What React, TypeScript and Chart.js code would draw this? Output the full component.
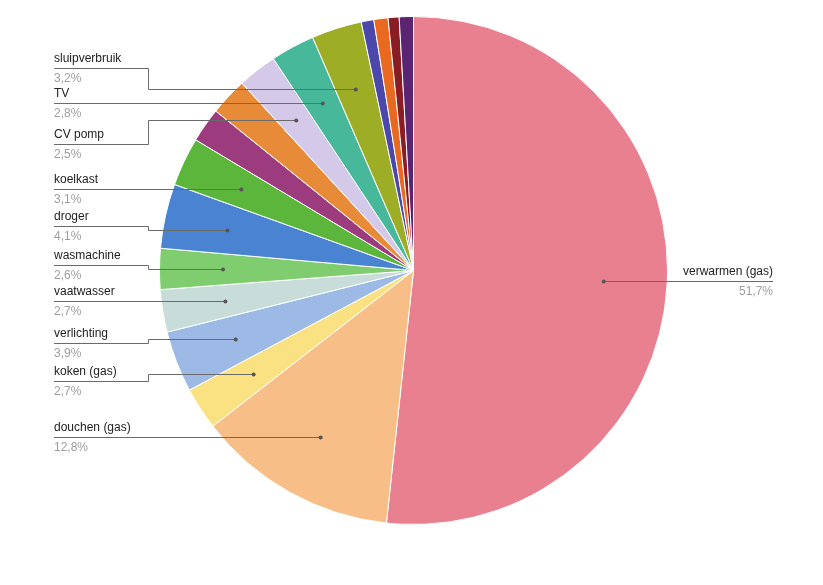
import React, { useEffect, useRef } from "react";
import { Chart, registerables } from "chart.js";

Chart.register(...registerables);

const categories = [
  "verwarmen (gas)",
  "douchen (gas)",
  "koken (gas)",
  "verlichting",
  "vaatwasser",
  "wasmachine",
  "droger",
  "koelkast",
  "overig 1",
  "overig 2",
  "CV pomp",
  "TV",
  "sluipverbruik",
  "overig 3",
  "overig 4",
  "overig 5",
  "overig 6",
];

const values = [51.7, 12.8, 2.7, 3.9, 2.7, 2.6, 4.1, 3.1, 2.2, 2.4, 2.5, 2.8, 3.2, 0.8, 0.9, 0.7, 0.9];

const colors = [
  "#E98090",
  "#F7BF87",
  "#FAE283",
  "#9CBAE5",
  "#C8DDDA",
  "#80CD70",
  "#4A83D1",
  "#5BB63B",
  "#9C3B7D",
  "#E88B38",
  "#D4C9E8",
  "#47B99A",
  "#9DAE26",
  "#4B48AB",
  "#E8691F",
  "#8B1C24",
  "#5B2472",
];

// which slices get a label (index -> side and label line y)
const labelLayout: Record<number, { side: "left" | "right"; y?: number }> = {
  0: { side: "right" },
  1: { side: "left", y: 437 },
  2: { side: "left", y: 381 },
  3: { side: "left", y: 343 },
  4: { side: "left", y: 301 },
  5: { side: "left", y: 265 },
  6: { side: "left", y: 226 },
  7: { side: "left", y: 189 },
  10: { side: "left", y: 144 },
  11: { side: "left", y: 104 },
  12: { side: "left", y: 68 },
};

const FONT = "Arial, 'Liberation Sans', sans-serif";

const labelPlugin = {
  id: "pieLabels",
  afterDatasetsDraw(chart: any) {
    const ctx = chart.ctx as CanvasRenderingContext2D;
    const meta = chart.getDatasetMeta(0);
    const total = values.reduce((a, b) => a + b, 0);
    const leftX = 54;
    const kinkX = 148;
    const rightX = 773;
    ctx.save();
    ctx.font = `12px ${FONT}`;
    meta.data.forEach((arc: any, i: number) => {
      const lay = labelLayout[i];
      if (!lay) return;
      const p = arc.getProps(["x", "y", "startAngle", "endAngle", "outerRadius"], true);
      const mid = (p.startAngle + p.endAngle) / 2;
      const dx = p.x + Math.cos(mid) * p.outerRadius * 0.75;
      const dy = p.y + Math.sin(mid) * p.outerRadius * 0.75;
      const pct = ((values[i] / total) * 100).toFixed(1).replace(".", ",") + "%";
      ctx.strokeStyle = "#6b6b6b";
      ctx.lineWidth = 1;
      ctx.beginPath();
      let lineY: number;
      if (lay.side === "right") {
        lineY = Math.round(dy) + 0.5;
        ctx.moveTo(dx, lineY);
        ctx.lineTo(rightX, lineY);
      } else {
        const ly = lay.y as number;
        const dyr = Math.round(dy);
        lineY = ly + 0.5;
        if (Math.abs(ly - dyr) <= 1) {
          lineY = dyr + 0.5;
          ctx.moveTo(leftX, lineY);
          ctx.lineTo(dx, lineY);
        } else {
          ctx.moveTo(leftX, lineY);
          ctx.lineTo(kinkX + 0.5, lineY);
          ctx.lineTo(kinkX + 0.5, dyr + 0.5);
          ctx.lineTo(dx, dyr + 0.5);
        }
      }
      ctx.stroke();
      ctx.fillStyle = "#555555";
      ctx.beginPath();
      ctx.arc(dx, Math.round(dy) + 0.5, 2, 0, Math.PI * 2);
      ctx.fill();

      ctx.textBaseline = "middle";
      if (lay.side === "right") {
        ctx.textAlign = "right";
        ctx.fillStyle = "#222222";
        ctx.fillText(categories[i], rightX, lineY - 10);
        ctx.fillStyle = "#9e9e9e";
        ctx.fillText(pct, rightX, lineY + 10);
      } else {
        ctx.textAlign = "left";
        ctx.fillStyle = "#222222";
        ctx.fillText(categories[i], leftX, lineY - 10);
        ctx.fillStyle = "#9e9e9e";
        ctx.fillText(pct, leftX, lineY + 10);
      }
    });
    ctx.restore();
  },
};

export default function App() {
  const ref = useRef<HTMLCanvasElement | null>(null);
  useEffect(() => {
    if (!ref.current) return;
    const chart = new Chart(ref.current, {
      type: "pie",
      data: {
        labels: categories,
        datasets: [
          {
            data: values,
            backgroundColor: colors,
            borderColor: "#ffffff",
            borderWidth: 1,
            hoverOffset: 0,
          },
        ],
      },
      options: {
        animation: false,
        responsive: false,
        devicePixelRatio: 1,
        events: [],
        layout: { padding: { left: 159, right: 155, top: 16, bottom: 60 } },
        plugins: {
          legend: { display: false },
          tooltip: { enabled: false },
        },
      },
      plugins: [labelPlugin],
    });
    return () => chart.destroy();
  }, []);
  return (
    <div style={{ position: "absolute", left: 0, top: 0, width: 823, height: 585, background: "#fff" }}>
      <canvas ref={ref} width={823} height={585} />
    </div>
  );
}
